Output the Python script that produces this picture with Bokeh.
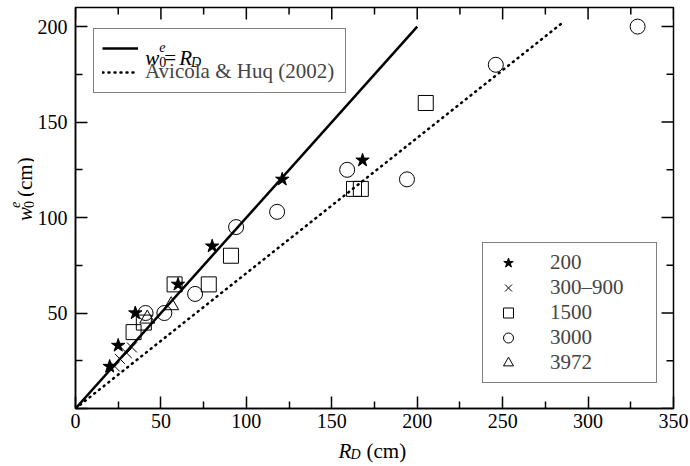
import math
from bokeh.plotting import figure
from bokeh.layouts import column, row
from bokeh.models import Legend, LegendItem, FixedTicker, Range1d
from bokeh.core.properties import value
from bokeh.embed import file_html
from bokeh.resources import INLINE

# ---------------- data ----------------
star_x = [20, 25, 35, 60, 80, 121, 168]          # series "200"
star_y = [22, 33, 50, 65, 85, 120, 130]
cross_x = [23, 26, 30, 33]                      # series "300–900"
cross_y = [22, 26, 29, 32]
square_x = [34, 40, 58, 78, 91, 163, 167, 205]  # series "1500"
square_y = [40, 45, 65, 65, 80, 115, 115, 160]
circle_x = [41, 52, 70, 94, 118, 159, 194, 246, 329]  # series "3000"
circle_y = [50, 50, 60, 95, 103, 125, 120, 180, 200]
tri_x = [42, 56]                                # series "3972"
tri_y = [47, 54]
series_labels = ["200", "300–900", "1500", "3000", "3972"]

equal_x = [0, 200]       # w0e = R_D
equal_y = [0, 200]
ah_x = [0, 285]          # Avicola & Huq (2002)
ah_y = [0, 202]
ah_label = "Avicola & Huq (2002)"

x_major = [0, 50, 100, 150, 200, 250, 300, 350]
x_minor = [25, 75, 125, 175, 225, 275, 325]
y_major = [0, 50, 100, 150, 200]
y_minor = [25, 75, 125, 175]

X0, X1 = 0, 350
Y0, Y1 = 0, 210

FONT = "Liberation Serif"
TICK_FS = "20px"
LEG_FS = "21px"

# ---------------- geometry (canvas pixels) ----------------
W, H = 690, 466
YLAB_W = 34                 # strip on the left holding the y-axis title
MAIN_H = 436                # main plot height; the x-axis title strip is below it
XLAB_H = H - MAIN_H
FL, FR, FT, FB = 73, 673, 7, 408   # frame edges on the whole canvas
TICK_IN, MINOR_IN = 12, 7
LW = 1.5

p = figure(width=W - YLAB_W, height=MAIN_H, x_range=Range1d(X0, X1), y_range=Range1d(Y0, Y1),
           output_backend="svg", toolbar_location=None, tools="",
           min_border_left=FL - YLAB_W, min_border_right=W - FR,
           min_border_top=FT, min_border_bottom=MAIN_H - FB)
p.grid.visible = False
p.outline_line_color = "black"
p.outline_line_width = LW
p.background_fill_color = "white"
p.border_fill_color = "white"

for ax, ticks, minor in ((p.xaxis[0], x_major, x_minor), (p.yaxis[0], y_major, y_minor)):
    ax.ticker = FixedTicker(ticks=ticks, minor_ticks=minor)
    ax.axis_line_color = "black"
    ax.axis_line_width = LW
    ax.major_tick_in = TICK_IN
    ax.major_tick_out = 0
    ax.minor_tick_in = MINOR_IN
    ax.minor_tick_out = 0
    ax.major_tick_line_color = "black"
    ax.minor_tick_line_color = "black"
    ax.major_tick_line_width = LW
    ax.minor_tick_line_width = LW
    ax.major_label_text_font = FONT
    ax.major_label_text_font_size = TICK_FS
    ax.major_label_text_color = "black"
p.xaxis.major_label_standoff = 5
p.yaxis.major_label_standoff = 8
p.yaxis.major_label_overrides = {0: ""}

# mirrored inward ticks on the top and right frame edges (at the tick values)
px_x = (X1 - X0) / (FR - FL)   # data units per pixel
px_y = (Y1 - Y0) / (FB - FT)
p.segment(x0=x_major, y0=[Y1] * len(x_major), x1=x_major, y1=[Y1 - TICK_IN * px_y] * len(x_major),
          line_color="black", line_width=LW)
p.segment(x0=x_minor, y0=[Y1] * len(x_minor), x1=x_minor, y1=[Y1 - MINOR_IN * px_y] * len(x_minor),
          line_color="black", line_width=LW)
p.segment(x0=[X1] * len(y_major), y0=y_major, x1=[X1 - TICK_IN * px_x] * len(y_major), y1=y_major,
          line_color="black", line_width=LW)
p.segment(x0=[X1] * len(y_minor), y0=y_minor, x1=[X1 - MINOR_IN * px_x] * len(y_minor), y1=y_minor,
          line_color="black", line_width=LW)

# ---------------- lines ----------------
r_eq = p.line(equal_x, equal_y, line_color="black", line_width=2.5)
r_ah = p.line(ah_x, ah_y, line_color="black", line_width=2.5, line_dash="1 5", line_cap="round")

# ---------------- markers ----------------
r_star = p.scatter(star_x, star_y, marker="star", size=14, fill_color="black", line_color="black")
r_cross = p.scatter(cross_x, cross_y, marker="x", size=14, line_color="black", line_width=1)
r_sq = p.scatter(square_x, square_y, marker="square", size=15, fill_color=None, line_color="black", line_width=1)
r_ci = p.scatter(circle_x, circle_y, marker="circle", size=15, fill_color=None, line_color="black", line_width=1)
r_tr = p.scatter(tri_x, tri_y, marker="triangle", size=15, fill_color=None, line_color="black", line_width=1)

# ---------------- legends ----------------
leg1 = Legend(items=[LegendItem(label=value(" "), renderers=[r_eq]),
                     LegendItem(label=value(ah_label), renderers=[r_ah])],
              location=(18, 315), margin=0, padding=8, spacing=0,
              glyph_width=36, glyph_height=22, label_height=22, label_width=192,
              label_standoff=7, label_text_font=FONT, label_text_font_size=LEG_FS,
              border_line_color="black", border_line_width=LW, background_fill_alpha=0)
p.add_layout(leg1, "center")

leg2 = Legend(items=[LegendItem(label=value(series_labels[0]), renderers=[r_star]),
                     LegendItem(label=value(series_labels[1]), renderers=[r_cross]),
                     LegendItem(label=value(series_labels[2]), renderers=[r_sq]),
                     LegendItem(label=value(series_labels[3]), renderers=[r_ci]),
                     LegendItem(label=value(series_labels[4]), renderers=[r_tr])],
              location=(407, 25), margin=0, padding=7, spacing=0,
              glyph_width=36, glyph_height=25, label_height=25, label_width=99,
              label_standoff=24, label_text_font=FONT, label_text_font_size=LEG_FS,
              border_line_color="black", border_line_width=LW, background_fill_alpha=1)
p.add_layout(leg2, "center")


def to_data(px, py):
    return X0 + (px - FL) * px_x, Y0 + (FB - py) * px_y


def rich(fig, conv, pieces, angle=0.0):
    """pieces: (text, canvas_x, canvas_y_baseline, size_px, style)"""
    for text, cx, cy, size, style in pieces:
        x, y = conv(cx, cy)
        fig.text(x=[x], y=[y], text=[text], angle=angle,
                 text_font=value(FONT), text_font_size=value(f"{size}px"),
                 text_font_style=value(style), text_color="black",
                 text_align="left", text_baseline="alphabetic")


# legend entry text: w_0^e = R_D (inside the plot frame)
rich(p, to_data, [("w", 143, 57, 21, "italic"),
                  ("0", 157, 61, 14, "normal"),
                  ("e", 157, 46, 14, "italic"),
                  ("=", 162, 57, 21, "normal"),
                  ("R", 177, 57, 21, "italic"),
                  ("D", 189, 62, 14, "italic")])


def strip(width, height):
    f = figure(width=width, height=height, x_range=Range1d(0, width), y_range=Range1d(0, height),
               output_backend="svg", toolbar_location=None, tools="",
               x_axis_type=None, y_axis_type=None, min_border=0)
    f.grid.visible = False
    f.outline_line_color = None
    f.background_fill_color = "white"
    f.border_fill_color = "white"
    return f


# y-axis title strip (left of the main plot): w_0^e (cm), rotated
yfig = strip(YLAB_W, MAIN_H)
rich(yfig, lambda cx, cy: (cx, MAIN_H - cy),
     [("w", 24, 232, 21, "italic"),
      ("0", 28, 218, 14, "normal"),
      ("e", 14, 218, 14, "italic"),
      ("(cm)", 24, 206, 21, "normal")], angle=math.pi / 2)

# x-axis title strip (below the main plot): R_D (cm)
xfig = strip(W, XLAB_H)
rich(xfig, lambda cx, cy: (cx, H - cy),
     [("R", 338, 450, 21, "italic"),
      ("D", 350, 454, 14, "italic"),
      ("(cm)", 366, 450, 21, "normal")])

layout = column(row(yfig, p, spacing=0), xfig, spacing=0)
open("out.html", "w").write(file_html(layout, INLINE))
